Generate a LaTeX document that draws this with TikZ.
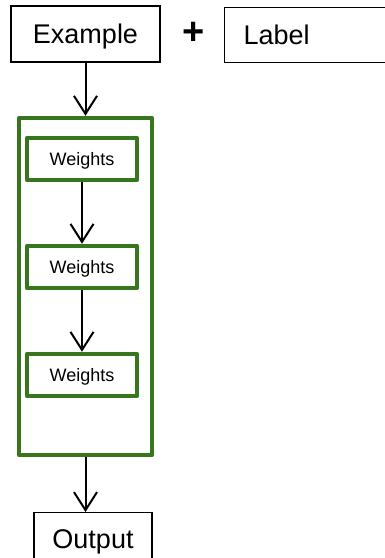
\documentclass[tikz,border=0pt]{standalone}
\usepackage{fontspec}
\setmainfont{Liberation Sans}
\usetikzlibrary{arrows.meta}
\definecolor{leafgreen}{RGB}{56,118,29}
\begin{document}
\begin{tikzpicture}[x=1pt,y=-1pt,
  inputbox/.style={draw=black,line width=1.4pt,inner sep=0pt,
    font=\fontsize{27}{30}\selectfont,text height=19.3pt,text depth=0pt},
  layerbox/.style={draw=leafgreen,line width=4.5pt,line join=round,
    minimum width=110pt,minimum height=42pt,inner sep=0pt,
    text height=12.9pt,text depth=0pt,
    font=\fontsize{18}{21}\selectfont},
  flow/.style={line width=2pt,
    -{Straight Barb[length=18pt,width=23pt,line width=2pt]}}]
  \useasboundingbox (0,0) rectangle (385,558);

  % inputs
  \node[inputbox,minimum width=149pt,minimum height=56pt] (ex) at (85.5,34) {Example};
  \node[font=\bfseries\fontsize{38}{40}\selectfont] (plus) at (193.5,33) {+};
  \node[inputbox,anchor=north west,minimum height=55pt,text width=140pt,
    align=left,inner xsep=19pt] (lbl) at (224,6.5) {Label};

  % network
  \node[draw=leafgreen,line width=4.5pt,line join=round,inner sep=0pt,
    minimum width=133pt,minimum height=337pt] (net) at (85.5,286.5) {};
  \node[layerbox] (w1) at (82,159) {Weights};
  \node[layerbox] (w2) at (82,267) {Weights};
  \node[layerbox] (w3) at (82,375) {Weights};

  % output, its lower edge runs past the page
  \node[inputbox,anchor=north,minimum width=118pt,text height=36pt,
    text depth=24pt] (out) at (93,512) {Output};

  % connectors
  \draw[flow] (ex.south) -- (net.north);
  \draw[flow] (w1.south) -- (w2.north);
  \draw[flow] (w2.south) -- (w3.north);
  \draw[flow] (net.south) -- (net.south |- out.north);
\end{tikzpicture}
\end{document}
